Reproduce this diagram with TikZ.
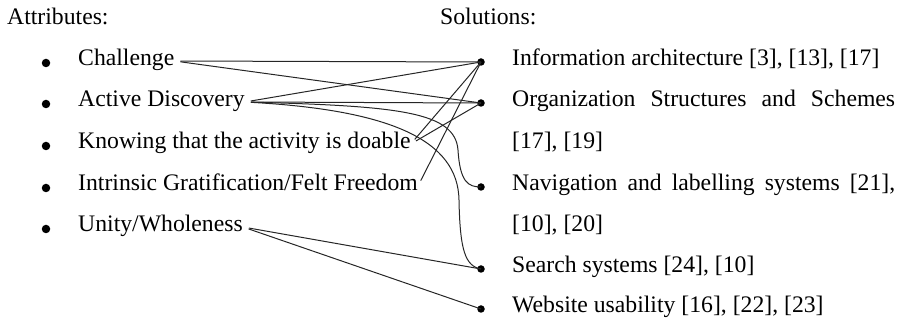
\documentclass[tikz,border=0pt]{standalone}
\usepackage{fontspec}
\setmainfont{Liberation Serif}
\begin{document}
\begin{tikzpicture}[x=1pt,y=-1pt,
  lbl/.style={anchor=west, inner sep=0pt, text height=10pt, text depth=0pt,
              font=\fontsize{23.7}{28}\selectfont},
  bul/.style={circle, fill=black, inner sep=0pt, minimum size=8.5pt},
  dotnode/.style={circle, fill=black, inner sep=0pt, minimum size=7.5pt},
  link/.style={line width=1pt, black!85}]
\useasboundingbox (0,0) rectangle (898,328);

% column headings
\node[lbl] (hattr) at (7,20) {Attributes:};
\node[lbl] (hsol) at (440,20) {Solutions:};

% attributes
\node[bul] (b1) at (46,63) {};
\node[bul] (b2) at (46,104) {};
\node[bul] (b3) at (46,146) {};
\node[bul] (b4) at (46,188) {};
\node[bul] (b5) at (46,229) {};
\node[lbl] (chal) at (78,61) {Challenge};
\node[lbl] (disc) at (78,102) {Active Discovery};
\node[lbl] (doab) at (78,144) {Knowing that the activity is doable};
\node[lbl] (grat) at (78,186) {Intrinsic Gratification/Felt Freedom};
\node[lbl] (unit) at (78,227) {Unity/Wholeness};

% solutions
\node[dotnode] (sIA) at (481,62) {};
\node[dotnode] (sOrg) at (481,103) {};
\node[dotnode] (sNav) at (481,187) {};
\node[dotnode] (sSrc) at (481,269) {};
\node[dotnode] (sWeb) at (481,309) {};
\node[lbl] (tIA) at (512,61) {Information architecture [3], [13], [17]};
\node[lbl] (tOrg) at (512,102) {\makebox[383pt][s]{Organization Structures and Schemes}};
\node[lbl] (tOrgb) at (512,144) {[17], [19]};
\node[lbl] (tNav) at (512,186) {\makebox[383pt][s]{Navigation and labelling systems [21],}};
\node[lbl] (tNavb) at (512,227) {[10], [20]};
\node[lbl] (tSrc) at (512,268) {Search systems [24], [10]};
\node[lbl] (tWeb) at (512,308) {Website usability [16], [22], [23]};

% links between attributes and solutions
\begin{scope}[link, shorten <=6pt]
\draw (chal.east) -- (sIA.center);
\draw (chal.east) -- (sOrg.center);
\draw (disc.east) -- (sIA.center);
\draw (disc.east) -- (sOrg.center);
\draw (disc.east) .. controls (400,106) and (455,112) .. (458,150)
                  .. controls (460,182) and (468,187) .. (sNav.center);
\draw (disc.east) .. controls (390,110) and (458,140) .. (459,200)
                  .. controls (460,250) and (465,266) .. (sSrc.center);
\draw (doab.east) -- (sIA.center);
\draw (doab.east) -- (sOrg.center);
\draw (grat.east) -- (sIA.center);
\draw (unit.east) -- (sSrc.center);
\draw (unit.east) -- (sWeb.center);
\end{scope}
\end{tikzpicture}
\end{document}
